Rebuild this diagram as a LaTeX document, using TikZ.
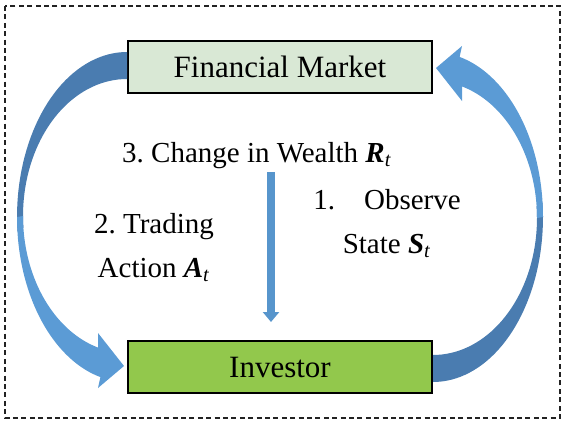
\documentclass[tikz,border=0pt]{standalone}
\usepackage{fontspec}
\setmainfont{Liberation Serif}
\usepackage{tikz}
\usetikzlibrary{positioning, arrows.meta, calc}
\frenchspacing
\definecolor{marketbg}{HTML}{D9E8D5}
\definecolor{investorbg}{HTML}{92C84C}
\definecolor{arclight}{HTML}{5B9BD5}
\definecolor{arcdark}{HTML}{4A7CB0}
\definecolor{arcedge}{HTML}{41719C}
\definecolor{framegray}{HTML}{222222}
\tikzset{
  agent box/.style={
    draw=black,
    line width=1pt,
    minimum width=152pt,
    minimum height=26pt,
    inner sep=0pt,
    font=\fontsize{15.5}{18}\selectfont
  },
  step label/.style={
    font=\fontsize{14.5}{22}\selectfont,
    align=center,
    inner sep=0pt
  },
  flow/.style={
    -{Triangle[width=8pt, length=5pt]},
    line width=4pt,
    color=arclight!85!arcedge
  },
  % curved block arrow, drawn round the middle of the left box sides
  pics/loop arrow/.style={code={
    \fill[arcdark] plot[domain=270:175, samples=40] ({110*cos(\x)}, {165*sin(\x)})
      -- plot[domain=175:270, samples=40] ({104*cos(\x)}, {137*sin(\x)-1}) -- cycle;
    \fill[arclight] plot[domain=180:104, samples=40] ({110*cos(\x)}, {165*sin(\x)})
      -- (-29,171) -- (-3,149) -- (-29,116) -- (-29,131)
      -- plot[domain=106:180, samples=40] ({104*cos(\x)}, {137*sin(\x)-1}) -- cycle;
  }}
}

\begin{document}
\begin{tikzpicture}[x=0.5pt, y=-0.5pt]
  \useasboundingbox (0,0) rectangle (566,423);

  % ====== FRAME ======
  \draw[framegray, line width=0.65pt, dash pattern=on 2.5pt off 1.7pt] (5,6) rectangle (560,418);

  % ====== BOXES ======
  \node[agent box, fill=marketbg] (market) at (280,67) {Financial Market};
  \node[agent box, fill=investorbg] (investor) at (280,367) {Investor};

  % ====== CURVED ARROWS ======
  \coordinate (lc) at ($(market.west)!0.5!(investor.west)$);
  \coordinate (rc) at ($(market.east)!0.5!(investor.east)$);
  \pic at (lc) {loop arrow};
  \pic[rotate=180] at (rc) {loop arrow};

  % ====== STEP LABELS ======
  % base = baseline of the last line
  \node[step label, anchor=base] (wealth) at (257,162) {3. Change in Wealth \textbf{\textit{R}}\textsubscript{\textit{t}}};
  \node[step label, anchor=base] (action) at (154,277) {2. Trading\\Action \textbf{\textit{A}}\textsubscript{\textit{t}}};
  \node[step label, anchor=base] (observe) at (387,253) {1.\quad Observe\\State \textbf{\textit{S}}\textsubscript{\textit{t}}};

  % ====== WEALTH ARROW ======
  \coordinate (drop) at (271,172);
  \draw[flow, shorten >=9pt] (drop) -- (drop |- investor.north);

\end{tikzpicture}
\end{document}
